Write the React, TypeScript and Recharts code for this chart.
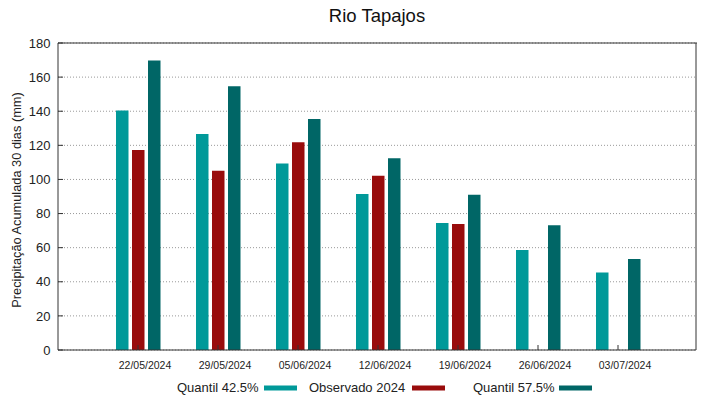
import { BarChart, Bar, XAxis, YAxis, CartesianGrid } from 'recharts';

// datas e valores
const dates = ['22/05/2024', '29/05/2024', '05/06/2024', '12/06/2024', '19/06/2024', '26/06/2024', '03/07/2024'];
const quantil425 = [140.4, 126.6, 109.4, 91.4, 74.5, 58.6, 45.5];
const observado2024 = [117.2, 105.1, 121.8, 102.1, 73.9, null, null];
const quantil575 = [169.8, 154.7, 135.5, 112.5, 91, 73.1, 53.3];
const yTicks = [0, 20, 40, 60, 80, 100, 120, 140, 160, 180];

const SERIES = [
  { key: 'q425', name: 'Quantil 42.5%', color: '#009999' },
  { key: 'obs', name: 'Observado 2024', color: '#990c0c' },
  { key: 'q575', name: 'Quantil 57.5%', color: '#006666' },
];

const FONT = '"Liberation Sans", Arial, sans-serif';
const AXIS = '#333333';

const chartData = dates.map((d, i) => ({
  date: d,
  q425: quantil425[i],
  obs: observado2024[i],
  q575: quantil575[i],
}));

// posições da legenda (texto, início da amostra)
const LEGEND_POS = [
  { text: 177, swatch: 264 },
  { text: 309, swatch: 412 },
  { text: 473, swatch: 559 },
];

function DateTick({ x, y, payload }: any) {
  return (
    <text x={x + 7} y={y} dy="0.71em" textAnchor="middle" fontSize={10.5} fontFamily={FONT} fill="#222">
      {payload.value}
    </text>
  );
}

export default function App() {
  return (
    <div style={{ position: 'absolute', left: 0, top: 0, width: 719, height: 399, background: '#fff' }}>
      <BarChart
        width={719}
        height={399}
        data={chartData}
        margin={{ top: 42, right: 22, left: 0, bottom: 0 }}
        barSize={12.5}
        barGap={3.5}
      >
        <CartesianGrid horizontal vertical={false} stroke="#999" strokeDasharray="1 2" yAxisId="left" />
        <XAxis
          dataKey="date"
          height={49}
          padding={{ left: 40, right: 38 }}
          axisLine={{ stroke: AXIS }}
          tickLine={{ stroke: AXIS }}
          tickSize={-5}
          tickMargin={17}
          tick={<DateTick />}
          interval={0}
        />
        <XAxis
          xAxisId="top"
          dataKey="date"
          orientation="top"
          height={1}
          padding={{ left: 40, right: 38 }}
          axisLine={false}
          tickLine={{ stroke: AXIS }}
          tickSize={-5}
          tick={false}
          interval={0}
        />
        <YAxis
          yAxisId="left"
          width={58}
          domain={[0, 180]}
          ticks={yTicks}
          interval={0}
          axisLine={{ stroke: AXIS }}
          tickLine={{ stroke: AXIS }}
          tickSize={-5}
          tickMargin={12.5}
          tick={{ fontSize: 13, fontFamily: FONT, fill: '#222' }}
        />
        <YAxis
          yAxisId="right"
          orientation="right"
          width={1}
          domain={[0, 180]}
          ticks={yTicks}
          interval={0}
          axisLine={{ stroke: AXIS }}
          tickLine={{ stroke: AXIS }}
          tickSize={-5}
          tick={false}
        />
        {SERIES.map((s) => (
          <Bar key={s.key} yAxisId="left" dataKey={s.key} name={s.name} fill={s.color} isAnimationActive={false} />
        ))}
      </BarChart>
      <svg width={719} height={399} style={{ position: 'absolute', left: 0, top: 0, pointerEvents: 'none' }}>
        {/* linha superior da moldura */}
        <line x1={58} x2={697} y1={43} y2={43} stroke={AXIS} />
        <text x={377} y={22} textAnchor="middle" fontSize={18.5} fontFamily={FONT} fill="#111">
          Rio Tapajos
        </text>
        <text
          transform="translate(21, 200) rotate(-90)"
          textAnchor="middle"
          fontSize={12.8}
          fontFamily={FONT}
          fill="#222"
        >
          Precipitação Acumulada 30 dias (mm)
        </text>
        {SERIES.map((s, i) => (
          <g key={s.key}>
            <text x={LEGEND_POS[i].text} y={392} fontSize={13} fontFamily={FONT} fill="#222">
              {s.name}
            </text>
            <rect x={LEGEND_POS[i].swatch} y={385.5} width={33} height={5} fill={s.color} />
          </g>
        ))}
      </svg>
    </div>
  );
}
